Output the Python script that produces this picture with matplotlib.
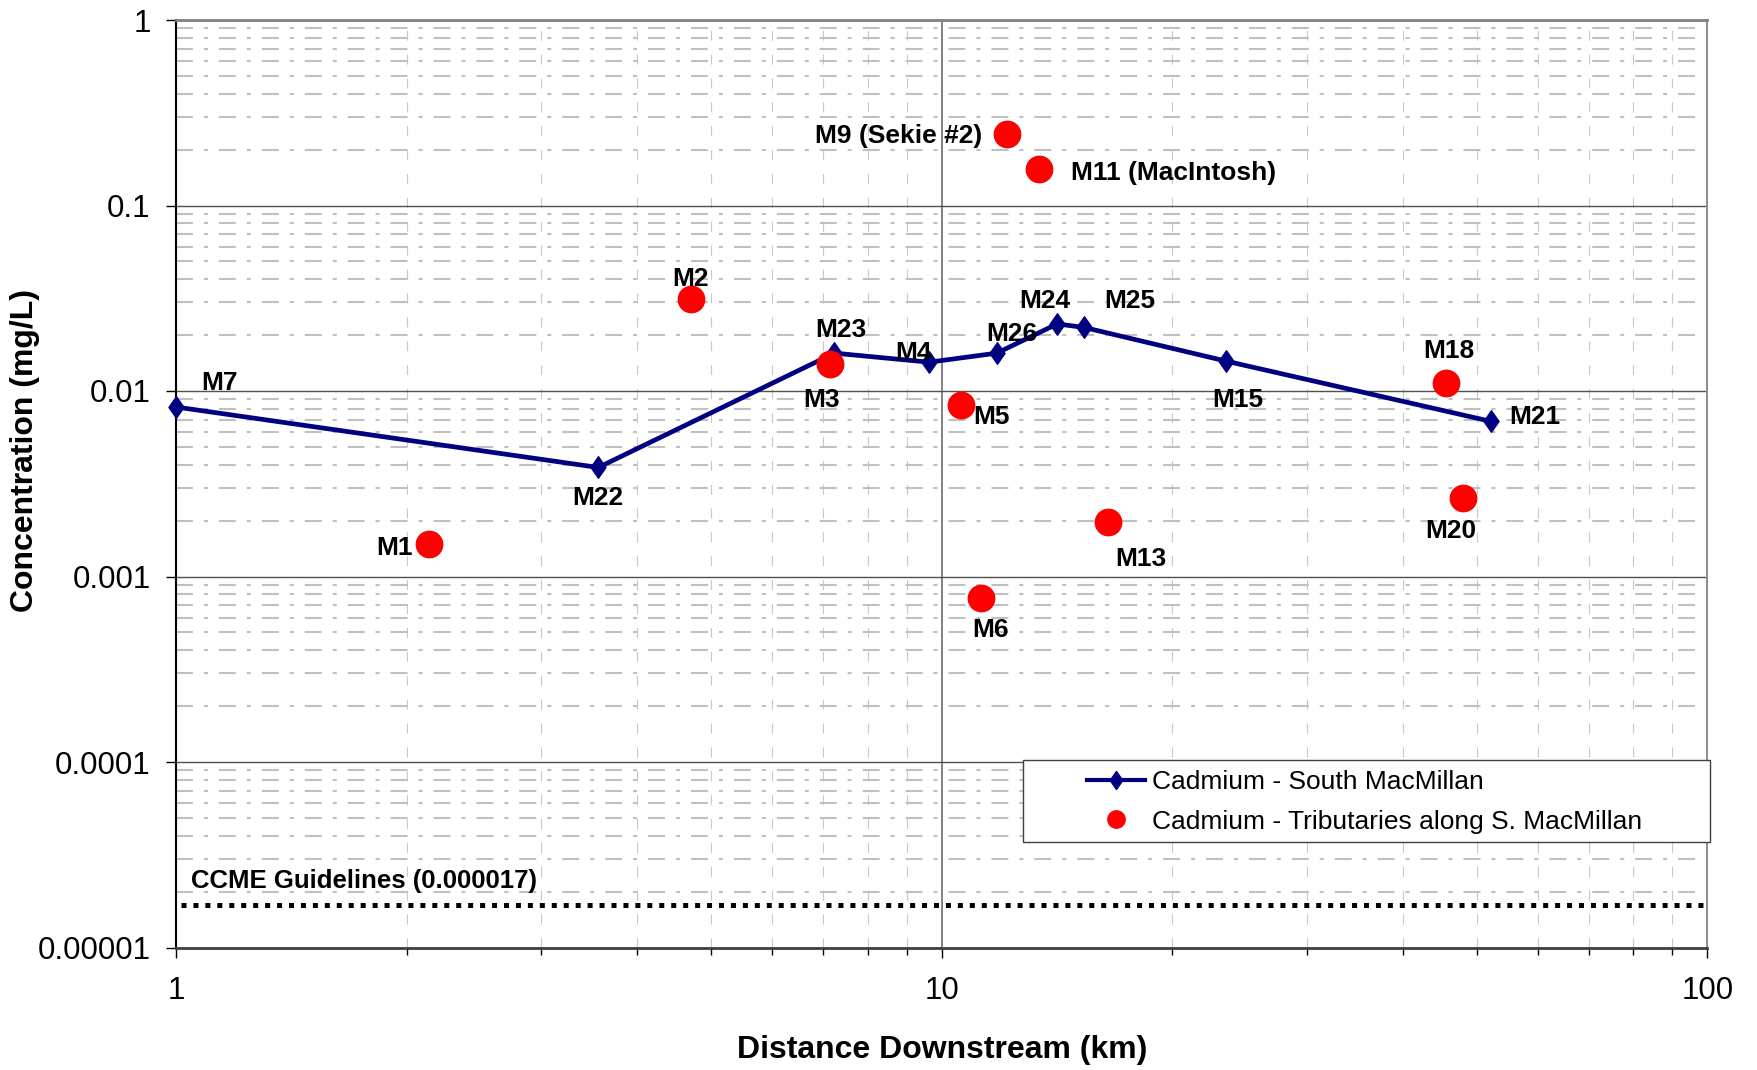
import matplotlib
matplotlib.use("Agg")
import matplotlib.pyplot as plt
from matplotlib.ticker import LogLocator, FixedLocator, FixedFormatter, NullFormatter
from matplotlib.lines import Line2D
from matplotlib.patches import Rectangle
from matplotlib.path import Path

plt.rcParams['font.family'] = ['Liberation Sans', 'DejaVu Sans']
plt.rcParams['lines.scale_dashes'] = False

# ---------------- data ----------------
main_names = ["M7", "M22", "M23", "M4", "M26", "M24", "M25", "M15", "M21"]
main_km = [1.0, 3.56, 7.24, 9.63, 11.8, 14.15, 15.35, 23.5, 52.2]
main_cd = [0.0082, 0.00387, 0.0160, 0.0143, 0.0160, 0.0230, 0.0220, 0.0145, 0.00685]

trib_names = ["M1", "M2", "M3", "M5", "M6", "M9 (Sekie #2)", "M11 (MacIntosh)", "M13", "M18", "M20"]
trib_km = [2.14, 4.70, 7.14, 10.6, 11.25, 12.16, 13.4, 16.5, 45.6, 48.0]
trib_cd = [0.00150, 0.0312, 0.0139, 0.00844, 0.00077, 0.242, 0.157, 0.00196, 0.0110, 0.00266]

ccme_value = 0.000017
ccme_label = "CCME Guidelines (0.000017)"

x_ticks = [1, 10, 100]
x_ticklabels = ["1", "10", "100"]
y_ticks = [0.00001, 0.0001, 0.001, 0.01, 0.1, 1]
y_ticklabels = ["0.00001", "0.0001", "0.001", "0.01", "0.1", "1"]

series_labels = ["Cadmium - South MacMillan", "Cadmium - Tributaries along S. MacMillan"]
x_title = "Distance Downstream (km)"
y_title = "Concentration (mg/L)"

# label offsets (pixels) and alignments
main_offsets = {"M7": (44, 24, 'center'), "M22": (0, -31, 'center'), "M23": (7, 23, 'center'),
                "M4": (-16, 9, 'center'), "M26": (15, 19, 'center'), "M24": (-12, 23, 'center'),
                "M25": (46, 26, 'center'), "M15": (12, -39, 'center'), "M21": (44, 4, 'center')}
trib_offsets = {"M1": (-35, -4, 'center'), "M2": (0, 20, 'center'), "M3": (-8, -36, 'center'),
                "M5": (30, -12, 'center'), "M6": (10, -32, 'center'),
                "M9 (Sekie #2)": (-25, -2, 'right'), "M11 (MacIntosh)": (32, -4, 'left'),
                "M13": (33, -37, 'center'), "M18": (3, 32, 'center'), "M20": (-13, -33, 'center')}

# ---------------- figure ----------------
fig = plt.figure(figsize=(17.58, 10.70), dpi=100)
ax = fig.add_axes([176 / 1758, 1 - 947.5 / 1070, (1707.5 - 176) / 1758, (947.5 - 20) / 1070])
ax.set_xscale('log')
ax.set_yscale('log')
ax.set_xlim(1, 100)
ax.set_ylim(1e-5, 1)
ax.set_axisbelow(True)

# ticks
ax.xaxis.set_major_locator(FixedLocator(x_ticks))
ax.xaxis.set_major_formatter(FixedFormatter(x_ticklabels))
ax.xaxis.set_minor_locator(LogLocator(base=10, subs=range(2, 10)))
ax.xaxis.set_minor_formatter(NullFormatter())
ax.yaxis.set_major_locator(FixedLocator(y_ticks))
ax.yaxis.set_major_formatter(FixedFormatter(y_ticklabels))
ax.yaxis.set_minor_locator(LogLocator(base=10, subs=range(2, 10)))
ax.yaxis.set_minor_formatter(NullFormatter())

ax.tick_params(axis='x', which='major', direction='out', length=7.2, width=1.0, pad=13, labelsize=22.5, colors='black')
ax.tick_params(axis='x', which='minor', direction='out', length=5, width=1.0)
ax.tick_params(axis='y', which='major', direction='out', length=7.2, width=1.0, pad=11, labelsize=22.5)
ax.tick_params(axis='y', which='minor', length=0)

# grid
ax.grid(True, which='major', axis='y', color='#505050', lw=1.0, ls='-')
ax.grid(True, which='major', axis='x', color='#606060', lw=1.1, ls='-')
ax.yaxis.grid(True, which='minor', color='#c0c0c0', lw=1.5, ls=(0, (12.2, 7.9, 2.9, 7.9)))
ax.xaxis.grid(True, which='minor', color='#c8c8c8', lw=0.8, ls=(0, (7.2, 10)))

# spines
ax.spines['left'].set_color('black')
ax.spines['left'].set_linewidth(1.5)
ax.spines['bottom'].set_color('#404040')
ax.spines['bottom'].set_linewidth(2.0)
ax.spines['top'].set_color('#808080')
ax.spines['top'].set_linewidth(2.0)
ax.spines['right'].set_color('#909090')
ax.spines['right'].set_linewidth(1.5)

# diamond marker (taller than wide)
diamond = Path([(0, 1), (0.7, 0), (0, -1), (-0.7, 0), (0, 1)],
               [Path.MOVETO, Path.LINETO, Path.LINETO, Path.LINETO, Path.CLOSEPOLY])

# CCME guideline
ax.axhline(ccme_value, xmin=0.003, xmax=1.0, color='black', lw=3.6, ls=(0, (3.6, 5.0)),
           dash_capstyle='butt', zorder=3)
ax.annotate(ccme_label, xy=(0.0095, ccme_value), xycoords=('axes fraction', 'data'),
            xytext=(0, 24), textcoords='offset pixels', ha='left', va='center',
            fontsize=18.5, fontweight='bold')

# series
ax.plot(main_km, main_cd, color='#000080', lw=3.4, marker=diamond, ms=15.5,
        markerfacecolor='#000080', markeredgecolor='#000080', zorder=5, clip_on=False)
ax.plot(trib_km, trib_cd, ls='none', marker='o', ms=19, color='#ff0000',
        markeredgecolor='#ff0000', zorder=6)

for name, xv, yv in zip(main_names, main_km, main_cd):
    dx, dy, ha = main_offsets[name]
    ax.annotate(name, xy=(xv, yv), xytext=(dx, dy), textcoords='offset pixels',
                ha=ha, va='center', fontsize=19, fontweight='bold', zorder=7)
for name, xv, yv in zip(trib_names, trib_km, trib_cd):
    dx, dy, ha = trib_offsets[name]
    ax.annotate(name, xy=(xv, yv), xytext=(dx, dy), textcoords='offset pixels',
                ha=ha, va='center', fontsize=19, fontweight='bold', zorder=7)

# legend
frame = Rectangle((0.553, 0.1137), 0.4485, 0.0883, transform=ax.transAxes,
                  facecolor='white', edgecolor='#404040', lw=1.0, clip_on=False, zorder=4)
ax.add_patch(frame)
handles = [Line2D([], [], color='#000080', lw=3.0, marker=diamond, ms=13,
                  markerfacecolor='#000080', markeredgecolor='#000080'),
           Line2D([], [], ls='none', marker='o', ms=12.5, color='#ff0000')]
leg = ax.legend(handles, series_labels, loc='center left', bbox_to_anchor=(0.595, 0.157),
                frameon=False, fontsize=19, handlelength=2.2, handletextpad=0.26,
                labelspacing=0.58, borderpad=0, borderaxespad=0)
leg.set_zorder(8)

# axis titles
ax.set_xlabel(x_title, fontsize=23, fontweight='bold')
ax.xaxis.set_label_coords(0.5, -0.111)
ax.xaxis.label.set_va('center')
ax.set_ylabel(y_title, fontsize=23, fontweight='bold')
ax.yaxis.set_label_coords(-0.0986, 0.536)
ax.yaxis.label.set_va('center')

fig.savefig("out.png", dpi=100)
